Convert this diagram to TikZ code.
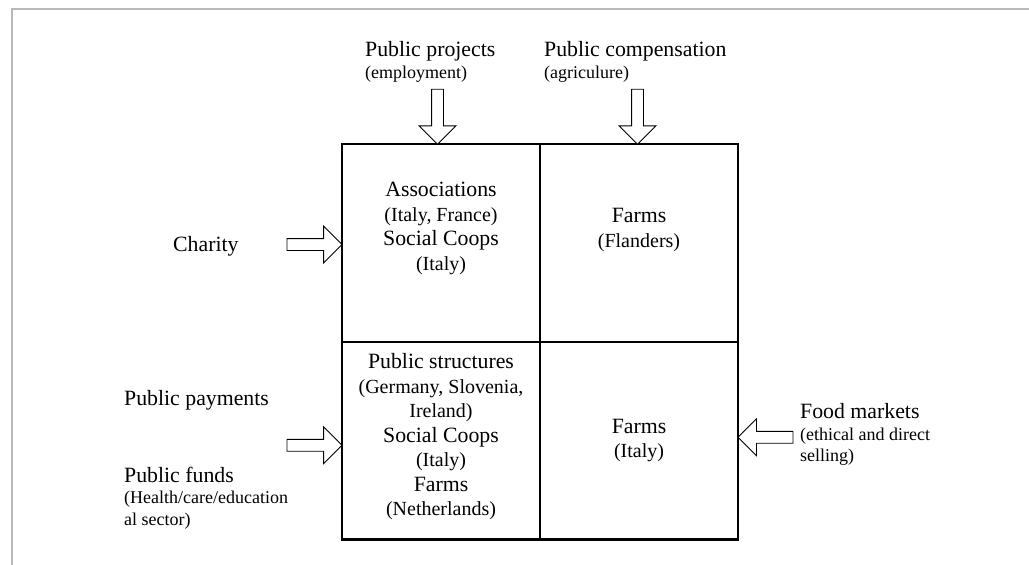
\documentclass[tikz,border=0pt]{standalone}
\usepackage{fontspec}
\setmainfont{Liberation Serif}
\usetikzlibrary{shapes.arrows}

\newcommand{\cellsub}[1]{{\fontsize{20}{24.5}\selectfont #1}}
\newcommand{\outsub}[1]{{\fontsize{18}{21.5}\selectfont #1}}

\begin{document}
\begin{tikzpicture}[
		x=1pt,
		y=-1pt,
		font=\fontsize{21.8}{24.5}\selectfont
	]
	\tikzset{
		mycell/.style = {rectangle, draw=black, line width=2.4pt, minimum width=198pt, minimum height=197.5pt, inner sep=0pt, outer sep=0pt},
		mytext/.style = {align=center, inner sep=0pt},
		mylabel/.style = {align=left, inner sep=0pt, anchor=base west, font=\fontsize{21.8}{21.5}\selectfont},
		myarrow/.style = {single arrow, draw=black, line width=0.8pt, fill=white, minimum height=55pt, minimum width=0pt, inner sep=5.5pt, single arrow head extend=12.5pt, single arrow head indent=0pt, outer sep=0pt, anchor=tip},
	}
		\useasboundingbox (0,0) rectangle (1029,565);
		\draw[gray!55, line width=1.5pt] (12,565) -- (12,9) -- (1029,9);
		%
		\node[mycell] at (441,243) (tl) {};
		\node[mycell] at (639,243) (tr) {};
		\node[mycell] at (441,440.75) (bl) {};
		\node[mycell] at (639,440.75) (br) {};
		%
		\node[mytext] at (441,228.5) (tltext) {Associations\\\cellsub{(Italy, France)}\\Social Coops\\\cellsub{(Italy)}};
		\node[mytext] at (639,230) (trtext) {Farms\\\cellsub{(Flanders)}};
		\node[mytext] at (441,436.7) (bltext) {Public structures\\\cellsub{(Germany, Slovenia,}\\\cellsub{Ireland)}\\Social Coops\\\cellsub{(Italy)}\\Farms\\\cellsub{(Netherlands)}};
		\node[mytext] at (639,440.6) (brtext) {Farms\\\cellsub{(Italy)}};
		%
		\node[myarrow, rotate=-90] at ([xshift=-3.5pt]tl.north) (projarrow) {};
		\node[myarrow, rotate=-90] at ([xshift=-1.5pt]tr.north) (comparrow) {};
		\node[myarrow] at ([yshift=-1.5pt]tl.west) (chararrow) {};
		\node[myarrow] at ([yshift=-4.5pt]bl.west) (payarrow) {};
		\node[myarrow, rotate=180] at ([yshift=3.5pt]br.east) (foodarrow) {};
		%
		% multi-line labels: base is the last line
		\node[mylabel] at (365,78.3) (proj) {Public projects\\\outsub{(employment)}};
		\node[mylabel] at (544,78.3) (comp) {Public compensation\\\outsub{(agriculure)}};
		\node[mylabel] at (173,251) (char) {Charity};
		\node[mylabel] at (124,405) (pay) {Public payments};
		\node[mylabel] at (124,525) (fund) {Public funds\\\outsub{(Health/care/education}\\\outsub{al sector)}};
		\node[mylabel] at (800,461.7) (food) {Food markets\\\outsub{(ethical and direct}\\\outsub{selling)}};
	\end{tikzpicture}
\end{document}
